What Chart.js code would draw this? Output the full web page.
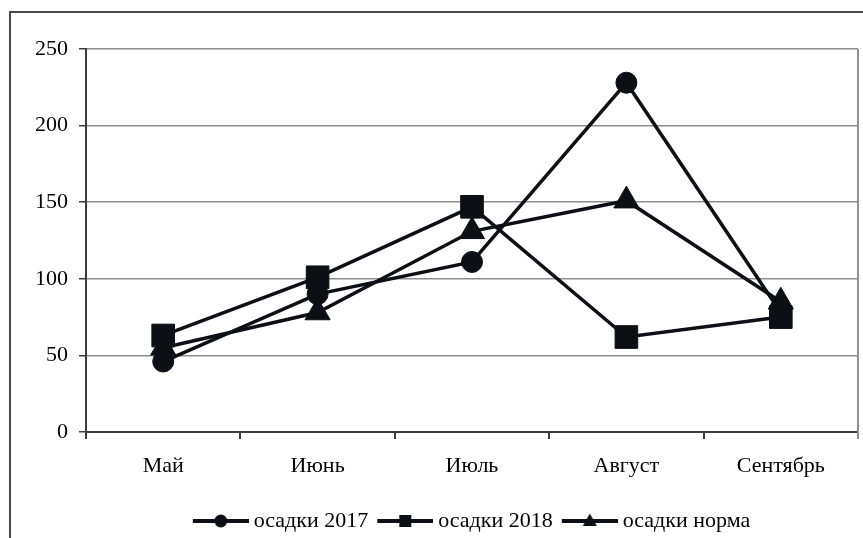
<!DOCTYPE html>
<html>
<head>
<meta charset="utf-8">
<script src="https://cdn.jsdelivr.net/npm/chart.js@4/dist/chart.umd.min.js"></script>
<style>
  html, body { margin: 0; padding: 0; background: #fff; overflow: hidden; }
  #wrap { position: relative; width: 863px; height: 538px; }
  #frame { position: absolute; left: 9px; top: 11px; width: 900px; height: 600px;
           border: 2px solid #474b50; box-sizing: border-box; }
  canvas { position: absolute; left: 0; top: 0; }
</style>
</head>
<body>
<div id="wrap">
  <div id="frame"></div>
  <canvas id="c" width="863" height="538"></canvas>
</div>
<script>
// Месяцы вегетационного периода
const months = ['Май', 'Июнь', 'Июль', 'Август', 'Сентябрь'];

// Сумма осадков, мм
const rain2017 = [46, 90, 111, 228, 78];
const rain2018 = [63, 101, 147, 62, 75];
const rainNorm = [55, 78, 131, 151, 85];

const seriesNames = ['осадки 2017', 'осадки 2018', 'осадки норма'];
const yTicks = [0, 50, 100, 150, 200, 250];

const INK = '#0c1014';
const GRID = '#8e8e8e';
const AXIS = '#3c3c3c';
const FONT = 'Liberation Serif';
const FONT_SIZE = 22;

// Значок легенды: отрезок линии с маркером посередине
function legendGlyph(style) {
  const cv = document.createElement('canvas');
  cv.width = 61; cv.height = 20;
  const g = cv.getContext('2d');
  g.fillStyle = INK; g.strokeStyle = INK;
  g.lineWidth = 4;
  g.beginPath(); g.moveTo(5, 10); g.lineTo(61, 10); g.stroke();
  const cx = 33, cy = 10;
  g.beginPath();
  if (style === 'circle') {
    g.arc(cx, cy, 6.5, 0, Math.PI * 2);
  } else if (style === 'rect') {
    g.rect(cx - 6, cy - 6, 12, 12);
  } else {
    g.moveTo(cx, cy - 7.5); g.lineTo(cx + 7, cy + 5); g.lineTo(cx - 7, cy + 5); g.closePath();
  }
  g.fill();
  return cv;
}

// Серая правая граница области построения с засечкой вниз
const rightEdge = {
  id: 'rightEdge',
  beforeDatasetsDraw(chart) {
    const { ctx, chartArea: a } = chart;
    ctx.save();
    ctx.strokeStyle = GRID;
    ctx.lineWidth = 2;
    ctx.beginPath();
    ctx.moveTo(a.right, a.top);
    ctx.lineTo(a.right, a.bottom + 7);
    ctx.stroke();
    ctx.restore();
  }
};

function series(label, data, style, radius) {
  return {
    label, data,
    borderColor: INK, backgroundColor: INK,
    borderWidth: 3.5,
    pointStyle: style, pointRadius: radius, pointHoverRadius: radius,
    pointBackgroundColor: INK, pointBorderColor: INK, pointBorderWidth: 1,
    tension: 0, fill: false
  };
}

new Chart(document.getElementById('c'), {
  type: 'line',
  data: {
    labels: months,
    datasets: [
      series(seriesNames[0], rain2017, 'circle', 10.5),
      series(seriesNames[1], rain2018, 'rect', 16),
      series(seriesNames[2], rainNorm, 'triangle', 14.5)
    ]
  },
  options: {
    responsive: false,
    animation: false,
    devicePixelRatio: 1,
    layout: { autoPadding: false, padding: { left: 10, top: 49, right: 5, bottom: -4 } },
    plugins: {
      tooltip: { enabled: false },
      legend: {
        position: 'bottom',
        fullSize: false,
        labels: {
          usePointStyle: true,
          pointStyleWidth: 49,
          padding: 10,
          color: '#000',
          font: { family: FONT, size: FONT_SIZE },
          generateLabels(chart) {
            const styles = ['circle', 'rect', 'triangle'];
            return Chart.defaults.plugins.legend.labels.generateLabels(chart).map((it, i) => {
              it.pointStyle = legendGlyph(styles[i]);
              it.fontColor = '#000';
              return it;
            });
          }
        }
      }
    },
    scales: {
      x: {
        offset: true,
        afterFit(s) { s.height = 68; },
        border: { display: true, color: AXIS, width: 2 },
        grid: {
          offset: true,
          drawOnChartArea: false,
          tickLength: 7,
          tickColor: AXIS,
          lineWidth: 2
        },
        ticks: { color: '#000', padding: 14, font: { family: FONT, size: FONT_SIZE } }
      },
      y: {
        min: 0, max: 250,
        afterFit(s) { s.width = 76; },
        afterBuildTicks(s) { s.ticks = yTicks.map(v => ({ value: v })); },
        border: { display: true, color: AXIS, width: 2 },
        grid: { color: GRID, lineWidth: 1.5, tickLength: 7, tickColor: AXIS, tickWidth: 1.5 },
        ticks: { color: '#000', padding: 11, font: { family: FONT, size: FONT_SIZE } }
      }
    }
  },
  plugins: [rightEdge]
});
</script>
</body>
</html>
